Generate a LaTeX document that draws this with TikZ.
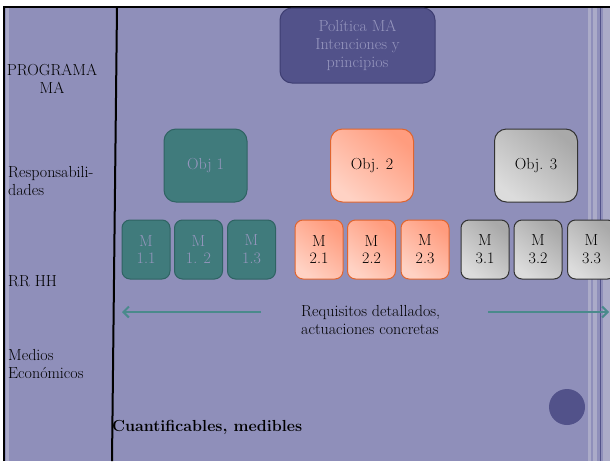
\documentclass[tikz,border=0pt]{standalone}
\usetikzlibrary{arrows.meta,positioning}

\definecolor{slidebg}{HTML}{8F8FBA}
\definecolor{stripe}{HTML}{ABABC8}
\definecolor{navy}{HTML}{52528A}
\definecolor{navyline}{HTML}{3E3E72}
\definecolor{tealfill}{HTML}{407B7C}
\definecolor{tealline}{HTML}{2F6363}
\definecolor{tealtext}{HTML}{9696BE}
\definecolor{tealarrow}{HTML}{4A8A8C}
\definecolor{orangelight}{HTML}{FFD2C4}
\definecolor{orangedark}{HTML}{FF9C7E}
\definecolor{orangeline}{HTML}{E0652F}
\definecolor{graylight}{HTML}{DCDCDC}
\definecolor{graydark}{HTML}{A9A9A9}

\begin{document}
\begin{tikzpicture}[x=1pt, y=-1pt, >=Straight Barb, font=\fontsize{16}{17.8}\selectfont,
objbox/.style={rounded corners=12pt, minimum width=83pt, minimum height=73pt, align=center, line width=1pt},
medbox/.style={rounded corners=8pt, minimum width=48pt, minimum height=59pt, align=center, inner sep=1pt, line width=1pt},
tealbox/.style={fill=tealfill, draw=tealline, text=tealtext},
orangebox/.style={draw=orangeline, top color=orangedark, bottom color=orangelight, shading angle=-40},
graybox/.style={draw=black!80, top color=graydark, bottom color=graylight, shading angle=-40},
rowlabel/.style={anchor=west, align=left, inner sep=0pt}]
    % slide background
    \useasboundingbox[fill=white] (0,0) rectangle (610,461);
    \fill[slidebg] (4,7) rectangle (610,461);
    \fill[stripe] (6,8) rectangle (9,461);
    \fill[stripe] (588,8) rectangle (591,461);
    \fill[stripe] (593,8) rectangle (597,461);
    \fill[stripe] (603,8) rectangle (610,461);
    \draw[navy, line width=1pt] (600,8) -- (600,461);
    \draw[line width=2pt] (4,461) -- (4,7) -- (610,7);
    \draw[line width=2pt] (117,7) -- (112,461);
    \fill[navy] (567,407) circle (18);

    % row labels
    \node[align=center, inner sep=0pt] (PROGRAMA) at (52,79) {PROGRAMA\\MA};
    \node[rowlabel] (RESP) at (8,181) {Responsabili-\\dades};
    \node[rowlabel] (RRHH) at (8,281) {RR HH};
    \node[rowlabel] (MEDIOS) at (8,364) {Medios\\Econ\'omicos};

    % policy and objectives
    \node[objbox, minimum width=155pt, minimum height=75pt, fill=navy, draw=navyline, text=tealtext]
        (POLITICA) at (357.5,45.5) {Pol\'itica MA\\Intenciones y\\principios};
    \node[objbox, tealbox] (OBJ_1) at (205.5,165.5) {Obj 1};
    \node[objbox, orangebox] (OBJ_2) at (372,165.5) {Obj. 2};
    \node[objbox, graybox] (OBJ_3) at (536,165.5) {Obj. 3};

    % measures
    \node[medbox, tealbox] (M_11) at (146,249.5) {M\\1.1};
    \node[medbox, tealbox] (M_12) at (198.5,249.5) {M\\1. 2};
    \node[medbox, tealbox] (M_13) at (251.5,249.5) {M\\1.3};
    \node[medbox, orangebox] (M_21) at (319,249.5) {M\\2.1};
    \node[medbox, orangebox] (M_22) at (371.5,249.5) {M\\2.2};
    \node[medbox, orangebox] (M_23) at (425,249.5) {M\\2.3};
    \node[medbox, graybox] (M_31) at (485,249.5) {M\\3.1};
    \node[medbox, graybox] (M_32) at (538,249.5) {M\\3.2};
    \node[medbox, graybox] (M_33) at (591.5,249.5) {M\\3.3};

    % detail arrows
    \node[anchor=north west, align=left, inner sep=0pt] (REQ) at (301,305) {Requisitos detallados,\\actuaciones concretas};
    \coordinate (ARR_LS) at (261,312);
    \coordinate (ARR_L) at (122,312);
    \coordinate (ARR_RS) at (488,312);
    \coordinate (ARR_R) at (609,312);
    \draw[->, tealarrow, line width=2pt] (ARR_LS) -- (ARR_L);
    \draw[->, tealarrow, line width=2pt] (ARR_RS) -- (ARR_R);

    \node[rowlabel, font=\fontsize{16}{17.8}\selectfont\bfseries] (CUANT) at (112,427) {Cuantificables, medibles};
\end{tikzpicture}
\end{document}
